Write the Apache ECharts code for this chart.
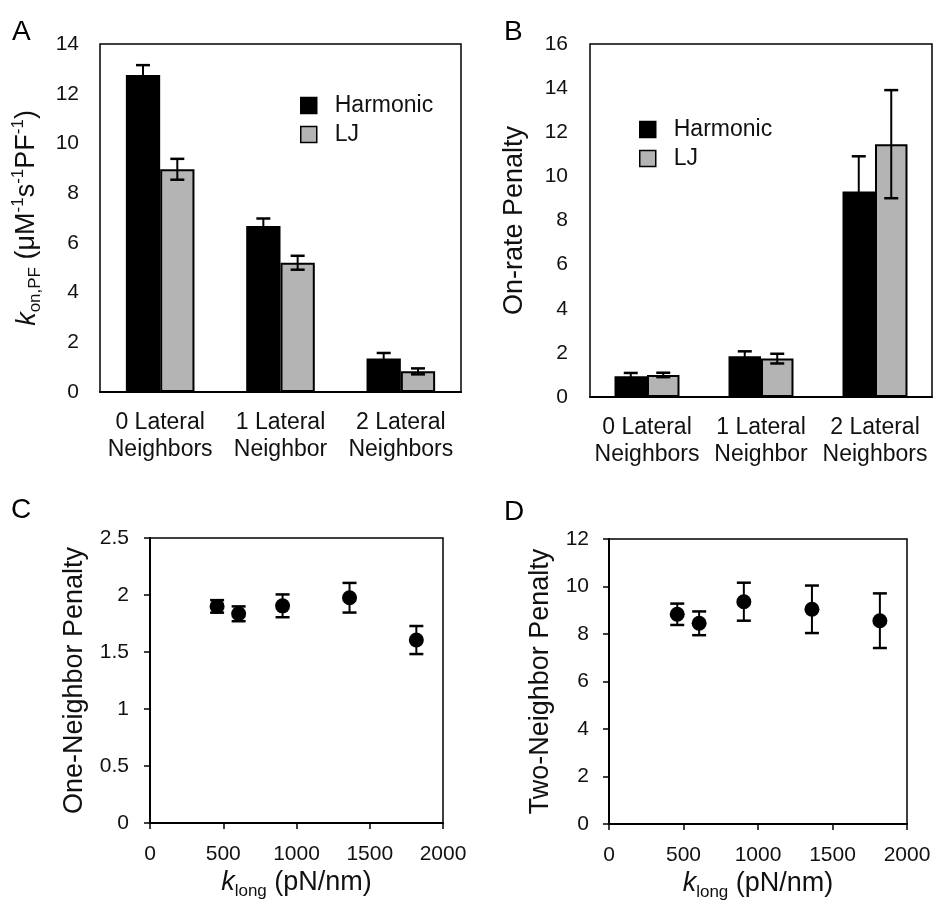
<!DOCTYPE html>
<html>
<head>
<meta charset="utf-8">
<script src="https://cdn.jsdelivr.net/npm/echarts@6/dist/echarts.min.js"></script>
<style>
  html, body { margin: 0; padding: 0; background: #fff; }
  #chart { width: 936px; height: 905px; }
</style>
</head>
<body>
<div id="chart"></div>
<script>
const categories = ['0 Lateral\nNeighbors', '1 Lateral\nNeighbor', '2 Lateral\nNeighbors']

// panel A: k_on,PF
const konHarmonic = [12.75, 6.68, 1.35]
const konHarmonicErr = [0.4, 0.3, 0.22]
const konLJ = [8.96, 5.2, 0.83]
const konLJErr = [0.42, 0.28, 0.12]

// panel B: on-rate penalty
const penaltyHarmonic = [0.94, 1.85, 9.31]
const penaltyHarmonicErr = [0.15, 0.22, 1.6]
const penaltyLJ = [1.0, 1.74, 11.46]
const penaltyLJErr = [0.1, 0.22, 2.45]

// panels C, D: vs k_long
const kLong = [458, 605, 905, 1362, 1818]
const oneNeighbor = [1.9, 1.835, 1.905, 1.976, 1.605]
const oneNeighborErr = [0.055, 0.065, 0.1, 0.13, 0.123]
const twoNeighbor = [8.83, 8.45, 9.36, 9.04, 8.56]
const twoNeighborErr = [0.45, 0.5, 0.8, 1.0, 1.15]

const FONT = 'Liberation Sans, Arial, sans-serif'
const TXT = '#111'
const GRAY = '#b4b4b4'
const BAR_W = 0.285

const rich = {
  i: { fontStyle: 'italic', fontSize: 27, fontFamily: FONT, color: TXT, lineHeight: 34 },
  sub: { fontSize: 17, fontFamily: FONT, color: TXT, verticalAlign: 'bottom', lineHeight: 17 },
  sup: { fontSize: 17, fontFamily: FONT, color: TXT, verticalAlign: 'top', lineHeight: 17 }
}

function errorBar(offset) {
  return function (params, api) {
    const x = api.value(0)
    const v = api.value(1)
    const e = api.value(2)
    const dx = offset ? api.size([1, 0])[0] * offset : 0
    const top = api.coord([x, v + e])
    const bot = api.coord([x, v - e])
    const cx = top[0] + dx
    const cap = 7
    const style = { stroke: '#000', lineWidth: 2 }
    return {
      type: 'group',
      children: [
        { type: 'line', shape: { x1: cx, y1: top[1], x2: cx, y2: bot[1] }, style },
        { type: 'line', shape: { x1: cx - cap, y1: top[1], x2: cx + cap, y2: top[1] }, style: { stroke: '#000', lineWidth: 2.5 } },
        { type: 'line', shape: { x1: cx - cap, y1: bot[1], x2: cx + cap, y2: bot[1] }, style: { stroke: '#000', lineWidth: 2.5 } }
      ]
    }
  }
}

function zip(vals, errs, xs) {
  return vals.map((v, i) => [xs ? xs[i] : i, v, errs[i]])
}

function axisBase() {
  return {
    axisLine: { lineStyle: { color: '#000', width: 2 } },
    axisTick: { length: 6, lineStyle: { color: '#000', width: 1.5 } },
    splitLine: { show: false },
    axisLabel: { fontFamily: FONT, fontSize: 21, color: TXT },
    nameTextStyle: { fontFamily: FONT, fontSize: 27, color: TXT, lineHeight: 34, rich }
  }
}

function catAxis(gridIndex, margin) {
  const a = axisBase()
  return Object.assign(a, {
    type: 'category', gridIndex, data: categories,
    axisTick: Object.assign(a.axisTick, { interval: 0 }),
    axisLabel: Object.assign(a.axisLabel, { interval: 0, margin, fontSize: 23, lineHeight: 27 })
  })
}

function valAxis(gridIndex, opts, labelMargin) {
  const a = axisBase()
  a.axisLabel.margin = labelMargin
  a.axisLabel.formatter = v => String(v)
  return Object.assign(a, { type: 'value', gridIndex }, opts)
}

const grids = [
  { left: 100, top: 44, width: 361, height: 348 },
  { left: 590, top: 44, width: 342, height: 353 },
  { left: 150, top: 538, width: 293, height: 285 },
  { left: 609, top: 539, width: 298, height: 285 }
].map(g => Object.assign(g, { show: true, borderColor: '#000', borderWidth: 1.5, containLabel: false }))

function barPair(axisIdx, vals, errs, valsLJ, errsLJ) {
  const common = { type: 'bar', xAxisIndex: axisIdx, yAxisIndex: axisIdx, barWidth: (BAR_W * 100) + '%', barGap: '0%' }
  return [
    Object.assign({ name: 'Harmonic', data: vals, itemStyle: { color: '#000', borderColor: '#000', borderWidth: 1.5 } }, common),
    Object.assign({ name: 'LJ', data: valsLJ, itemStyle: { color: GRAY, borderColor: '#000', borderWidth: 2 } }, common),
    { type: 'custom', xAxisIndex: axisIdx, yAxisIndex: axisIdx, renderItem: errorBar(-BAR_W / 2), data: zip(vals, errs), encode: { x: 0, y: 1 }, z: 5 },
    { type: 'custom', xAxisIndex: axisIdx, yAxisIndex: axisIdx, renderItem: errorBar(BAR_W / 2), data: zip(valsLJ, errsLJ), encode: { x: 0, y: 1 }, z: 5 }
  ]
}

function scatterPair(axisIdx, vals, errs) {
  return [
    { type: 'scatter', xAxisIndex: axisIdx, yAxisIndex: axisIdx, symbolSize: 15, itemStyle: { color: '#000', opacity: 1 }, data: kLong.map((x, i) => [x, vals[i]]), z: 6 },
    { type: 'custom', xAxisIndex: axisIdx, yAxisIndex: axisIdx, renderItem: errorBar(0), data: zip(vals, errs, kLong), encode: { x: 0, y: 1 }, z: 5 }
  ]
}

function legendAt(left, top) {
  return {
    data: ['Harmonic', 'LJ'], orient: 'vertical', left, top,
    icon: 'rect', itemWidth: 16, itemHeight: 16, itemGap: 6,
    itemStyle: { borderColor: '#000', borderWidth: 1.5 },
    textStyle: { fontFamily: FONT, fontSize: 23, lineHeight: 23, color: TXT, padding: [0, 0, 0, 13] },
    selectedMode: false
  }
}

function letter(text, left, top) {
  return { type: 'text', left, top, style: { text, font: '28px ' + FONT, fill: '#000' } }
}

const kLongName = '{i|k}{sub|long} (pN/nm)'

const option = {
  animation: false,
  textStyle: { fontFamily: FONT },
  grid: grids,
  legend: [legendAt(295, 89), legendAt(634, 113)],
  graphic: [letter('A', 12, 18), letter('B', 504, 18), letter('C', 11, 496), letter('D', 504, 498)],
  xAxis: [
    catAxis(0, 17),
    catAxis(1, 17),
    valAxis(2, { min: 0, max: 2000, interval: 500, name: kLongName, nameLocation: 'middle', nameGap: 39 }, 21),
    valAxis(3, { min: 0, max: 2000, interval: 500, name: kLongName, nameLocation: 'middle', nameGap: 39 }, 21)
  ],
  yAxis: [
    valAxis(0, { min: 0, max: 14, interval: 2, name: '{i|k}{sub|on,PF} (μM{sup|-1}s{sup|-1}PF{sup|-1})', nameLocation: 'middle', nameGap: 56 }, 21),
    valAxis(1, { min: 0, max: 16, interval: 2, name: 'On-rate Penalty', nameLocation: 'middle', nameGap: 58 }, 22),
    valAxis(2, { min: 0, max: 2.5, interval: 0.5, name: 'One-Neighbor Penalty', nameLocation: 'middle', nameGap: 58 }, 21),
    valAxis(3, { min: 0, max: 12, interval: 2, name: 'Two-Neighbor Penalty', nameLocation: 'middle', nameGap: 51 }, 20)
  ],
  series: [
    ...barPair(0, konHarmonic, konHarmonicErr, konLJ, konLJErr),
    ...barPair(1, penaltyHarmonic, penaltyHarmonicErr, penaltyLJ, penaltyLJErr),
    ...scatterPair(2, oneNeighbor, oneNeighborErr),
    ...scatterPair(3, twoNeighbor, twoNeighborErr)
  ]
}

const chart = echarts.init(document.getElementById('chart'))
chart.setOption(option)
</script>
</body>
</html>
